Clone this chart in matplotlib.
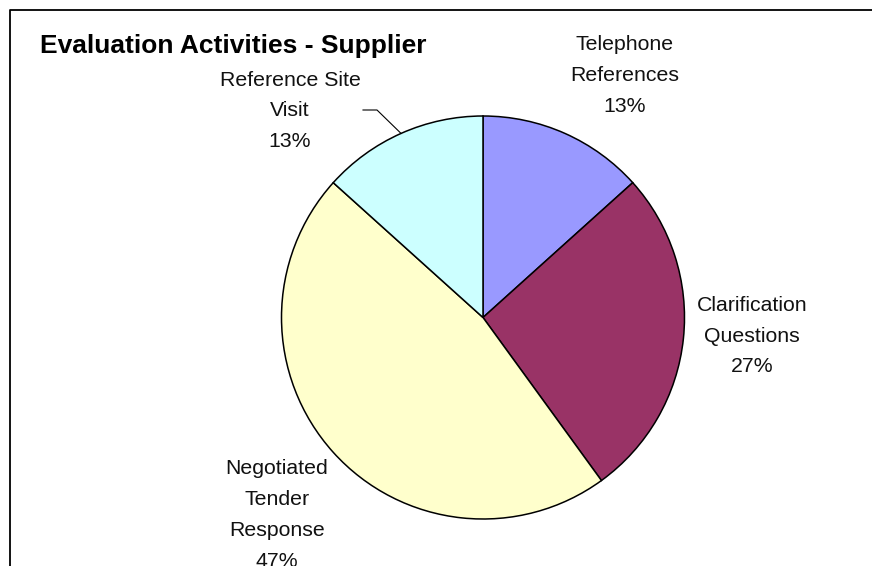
import matplotlib
matplotlib.use("Agg")
import matplotlib.pyplot as plt
import numpy as np

# Data
categories = ["Telephone References", "Clarification Questions",
              "Negotiated Tender Response", "Reference Site Visit"]
label_lines = ["Telephone\nReferences", "Clarification\nQuestions",
               "Negotiated\nTender\nResponse", "Reference Site\nVisit"]
counts = [2, 4, 7, 2]
colors = ["#9999FF", "#993366", "#FFFFCC", "#CCFFFF"]
title = "Evaluation Activities - Supplier"

plt.rcParams['font.family'] = ['Liberation Sans', 'DejaVu Sans']

W, H = 872, 566
fig = plt.figure(figsize=(W / 100, H / 100), dpi=100)
ax = fig.add_axes([0, 0, 1, 1])

cx, cy, r = 483, H - 317.5, 201.5
wedges, _ = ax.pie(counts, colors=colors, startangle=90, counterclock=False,
                   center=(cx, cy), radius=r, frame=True,
                   wedgeprops=dict(edgecolor="black", linewidth=1.1))
ax.set_xlim(0, W)
ax.set_ylim(0, H)
ax.set_aspect("equal")
ax.axis("off")

total = sum(counts)
pcts = [round(c / total * 100) for c in counts]

# label positions (pixel coords from top-left)
label_pos = [(625, 75.5), (752, 336), (277, 515), (290, 111)]
for txt, p, (lx, ly) in zip(label_lines, pcts, label_pos):
    ax.text(lx, H - ly, f"{txt}\n{p}%", ha="center", va="center",
            fontsize=15.3, linespacing=1.79, color="#111111")

# leader line for Reference Site Visit
w = wedges[3]
mid = np.deg2rad((w.theta1 + w.theta2) / 2)
ex, ey = cx + r * np.cos(mid), cy + r * np.sin(mid)
ax.plot([363, 377, ex], [H - 110, H - 110, ey], color="black", lw=0.8)

ax.text(40, H - 46, title, ha="left", va="center", fontsize=19,
        fontweight="bold", color="black")

# chart border (partially cropped)
ax.plot([9.5, 9.5, W + 5], [-5, H - 9.5, H - 9.5], color="black", lw=1.3,
        clip_on=False)

fig.savefig("out.png", dpi=100)
